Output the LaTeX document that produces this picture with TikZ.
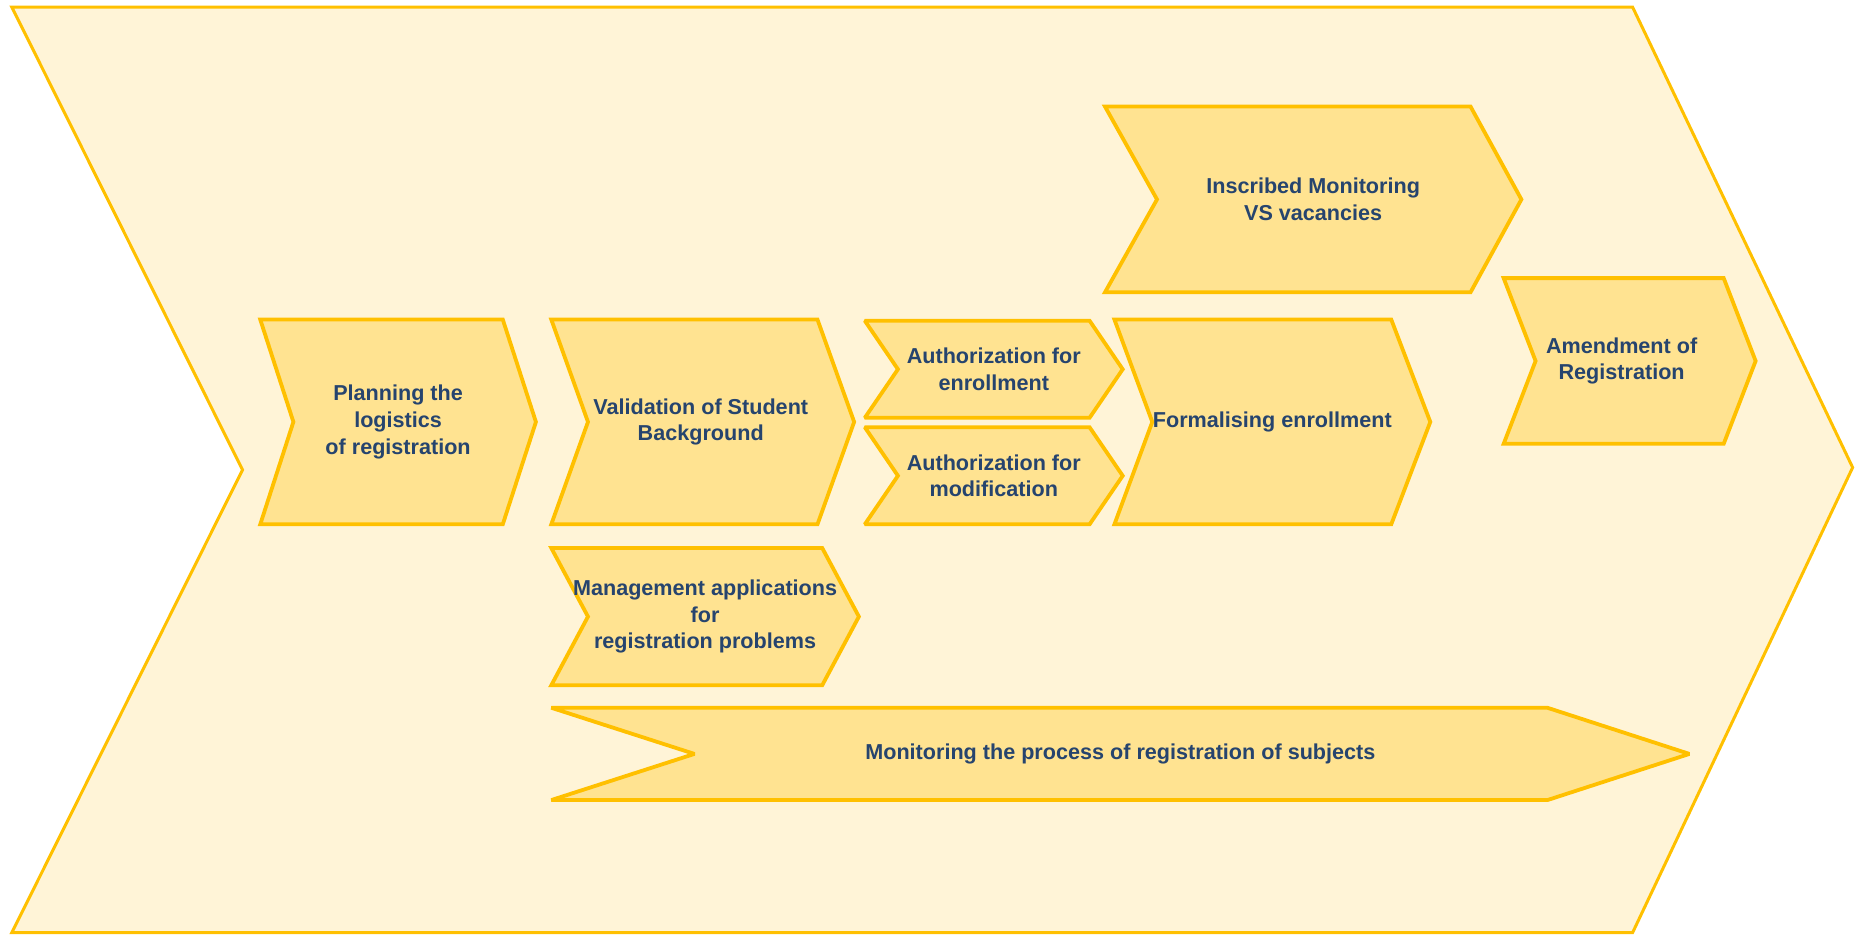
\documentclass[tikz,border=0pt]{standalone}
\usepackage{fontspec}
\setmainfont{Liberation Sans}
\definecolor{bord}{RGB}{255,192,0}
\definecolor{bgfill}{RGB}{255,244,215}
\definecolor{boxfill}{RGB}{255,227,145}
\definecolor{txt}{RGB}{38,68,110}
\tikzset{
  bigchev/.style={draw=bord,fill=bgfill,line width=3pt,line join=miter,miter limit=3},
  chevshape/.style={draw=bord,fill=boxfill,line width=3.8pt,line join=miter,miter limit=2},
  lbl/.style={text=txt,font=\fontsize{21.6}{26.6}\selectfont\bfseries,align=center,inner sep=0pt}
}
% [node options] name, x1, x2, y1, y2, left notch depth, right tip depth, text
\newcommand\chevbox[9][]{%
  \draw[chevshape] ({#3},{#5}) -- ({#4},{#5}) -- ({#4+#8},{(#5+#6)/2}) -- ({#4},{#6})
     -- ({#3},{#6}) -- ({#3+#7},{(#5+#6)/2}) -- cycle;
  \node[lbl,#1] (#2) at ({(#3+#4+#8)/2},{(#5+#6)/2}) {#9};
}
\begin{document}
\begin{tikzpicture}[x=1.1830pt,y=-1.1835pt]
\useasboundingbox (0,0) rectangle (1568,790);
% big background chevron
\draw[bigchev] (10,6) -- (1380,6) -- (1566,395) -- (1380,788) -- (10,788) -- (205,397) -- cycle;
\chevbox{plan}{220}{425}{270}{443}{28}{28}{Planning the\\logistics\\of registration}
\chevbox[xshift=-2pt]{valid}{466}{691}{270}{443}{31}{31}{Validation of Student\\Background}
\chevbox{authe}{731}{921}{271}{353}{28}{28}{Authorization for\\enrollment}
\chevbox{authm}{731}{921}{361}{443}{28}{28}{Authorization for\\modification}
\chevbox{formal}{942}{1176}{270}{443}{32}{33}{Formalising enrollment}
\chevbox{inscr}{934}{1243}{90}{247}{44}{43}{Inscribed Monitoring\\VS vacancies}
\chevbox[xshift=-8pt]{amend}{1271}{1457}{235}{375}{27}{27}{Amendment of\\Registration}
\chevbox{manage}{466}{695}{463}{579}{31}{31}{Management applications\\for\\registration problems}
\chevbox{monit}{466}{1308}{598}{676}{121}{120}{Monitoring the process of registration of subjects}
\end{tikzpicture}
\end{document}
